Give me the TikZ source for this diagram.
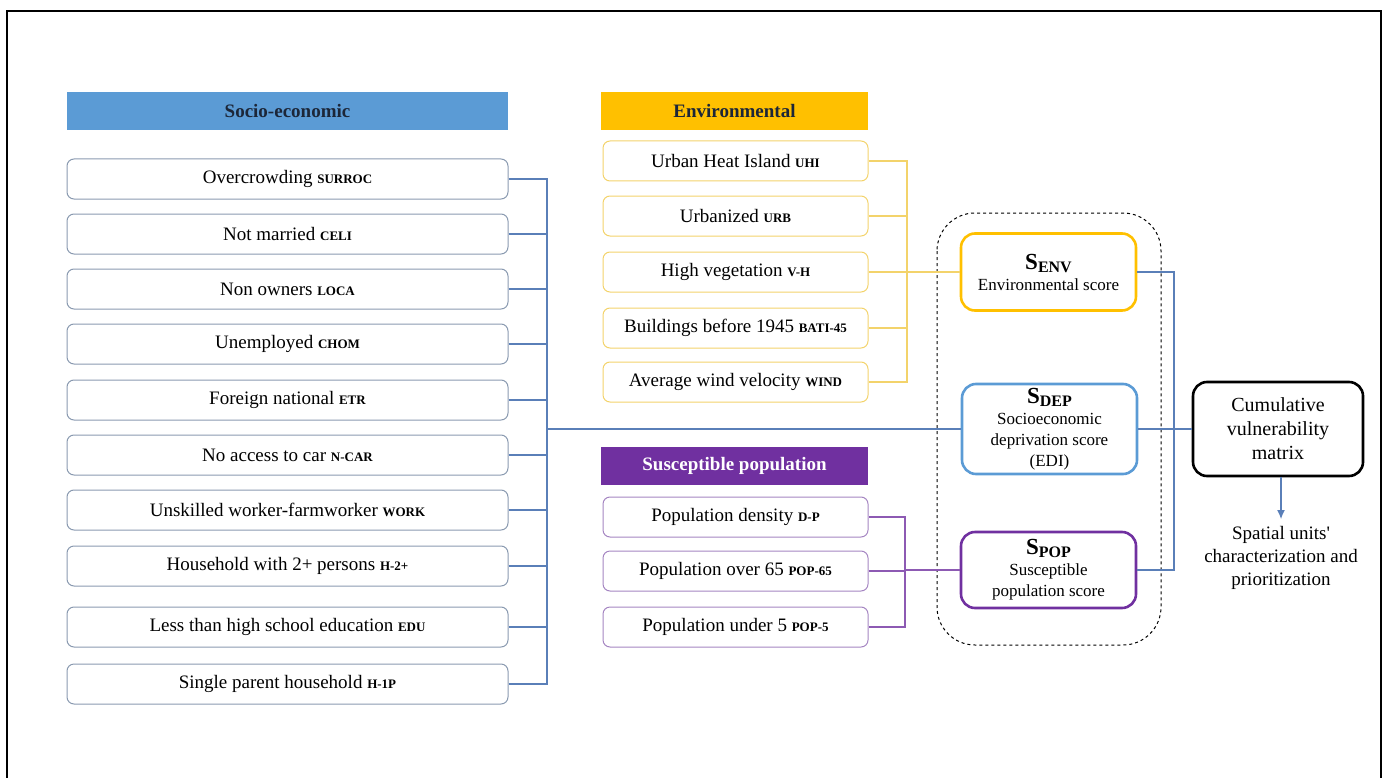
\documentclass[tikz,border=0pt]{standalone}
\usepackage{fontspec}
\setmainfont{Liberation Serif}
\usetikzlibrary{calc, arrows.meta}

\definecolor{socblue}{HTML}{5B9BD5}
\definecolor{envgold}{HTML}{FFC000}
\definecolor{poppurple}{HTML}{7030A0}
\definecolor{socline}{HTML}{8A9AB0}
\definecolor{envline}{HTML}{F3D36B}
\definecolor{popline}{HTML}{A585C2}
\definecolor{linkblue}{HTML}{5A7FB8}
\definecolor{headtext}{HTML}{1C2638}

\newcommand{\vcode}[1]{{\fontsize{13}{15}\selectfont\bfseries #1}}
\newcommand{\score}[2]{{\fontsize{23}{25}\selectfont\bfseries #1}{\fontsize{16}{18}\selectfont\bfseries\raisebox{-3pt}{#2}}}

\begin{document}
\begin{tikzpicture}[x=1pt, y=-1pt, line width=1pt,
		item/.style={draw, rounded corners=7pt, inner sep=0pt,
				minimum height=40pt, font=\fontsize{19}{22}\selectfont},
		head/.style={fill, inner sep=0pt, minimum height=38pt,
				font=\fontsize{19}{22}\selectfont\bfseries},
		scorebox/.style={draw, line width=2.6pt, rounded corners=14pt,
				inner sep=0pt, minimum width=175pt, align=center,
				font=\fontsize{17}{21}\selectfont},
		link/.style={linkblue, line width=1.1pt}]
	\useasboundingbox (0,0) rectangle (1388,778);
	\draw[line width=2pt] (7,778) |- (1381,11) -- (1381,778);

	% headers
	\node[head, socblue, minimum width=441pt, text=headtext] (sochead) at (287.5,111) {Socio-economic};
	\node[head, envgold, minimum width=267pt, text=headtext] (envhead) at (734.5,111) {Environmental};
	\node[head, poppurple, minimum width=267pt, text=white] (pophead) at (734.5,466) {Susceptible population};

	% socio-economic indicators
	\foreach \i/\y/\txt in {
			1/179/{Overcrowding \vcode{SURROC}},
			2/234/{Not married \vcode{CELI}},
			3/289/{Non owners \vcode{LOCA}},
			4/344/{Unemployed \vcode{CHOM}},
			5/400/{Foreign national \vcode{ETR}},
			6/455/{No access to car \vcode{N-CAR}},
			7/510/{Unskilled worker-farmworker \vcode{WORK}},
			8/566/{Household with 2+ persons \vcode{H-2+}},
			9/627/{Less than high school education \vcode{EDU}},
			10/684/{Single parent household \vcode{H-1P}}} {
			\node[item, draw=socline, minimum width=441pt] (s\i) at (287.5,\y) {\txt};
		}

	% environmental indicators
	\foreach \i/\y/\txt in {
			1/161/{Urban Heat Island \vcode{UHI}},
			2/216/{Urbanized \vcode{URB}},
			3/272/{High vegetation \vcode{V-H}},
			4/328/{Buildings before 1945 \vcode{BATI-45}},
			5/382/{Average wind velocity \vcode{WIND}}} {
			\node[item, draw=envline, minimum width=265pt] (e\i) at (735.5,\y) {\txt};
		}

	% population indicators
	\foreach \i/\y/\txt in {
			1/517/{Population density \vcode{D-P}},
			2/571/{Population over 65 \vcode{POP-65}},
			3/627/{Population under 5 \vcode{POP-5}}} {
			\node[item, draw=popline, minimum width=265pt] (p\i) at (735.5,\y) {\txt};
		}

	% scores
	\draw[dashed, line width=1pt, rounded corners=38pt] (937,213) rectangle (1161,645);
	\node[scorebox, draw=envgold, minimum height=77pt] (senv) at (1048.5,272)
		{\score{S}{ENV}\\Environmental score};
	\node[scorebox, draw=socblue, minimum height=90pt] (sdep) at (1049.5,429)
		{\score{S}{DEP}\\Socioeconomic\\deprivation score\\(EDI)};
	\node[scorebox, draw=poppurple, minimum height=76pt] (spop) at (1048.5,570)
		{\score{S}{POP}\\Susceptible\\population score};

	\node[draw, line width=2.6pt, rounded corners=14pt, minimum width=170pt,
		minimum height=94pt, align=center, font=\fontsize{20}{24}\selectfont]
		(cvm) at (1278,429) {Cumulative\\vulnerability\\matrix};
	\node[anchor=north, align=center, inner sep=0pt,
		font=\fontsize{19}{23}\selectfont] (spatial) at (1281,526)
		{Spatial units\textquotesingle\\characterization and\\prioritization};

	% connectors
	\coordinate (sbus) at (547,429);
	\coordinate (ebus) at (907,272);
	\coordinate (pbus) at (905,570);
	\coordinate (rbus) at (1174,429);
	\foreach \i in {1,...,10} {
			\draw[link] (s\i.east) -| (sbus);
		}
	\draw[link] (sbus) -- (sdep.west);
	\foreach \i in {1,...,5} {
			\draw[envline, line width=1.3pt] (e\i.east) -| (ebus);
		}
	\draw[envline, line width=1.3pt] (ebus) -- (senv.west);
	\foreach \i in {1,2,3} {
			\draw[poppurple!80, line width=1.1pt] (p\i.east) -| (pbus);
		}
	\draw[poppurple!80, line width=1.1pt] (pbus) -- (spop.west);
	\draw[link] (senv.east) -| (rbus);
	\draw[link] (spop.east) -| (rbus);
	\draw[link] (sdep.east) -- (cvm.west);
	\draw[link, -{Latex[length=9pt, width=8pt]}] (cvm.south -| spatial.north) -- ([yshift=7pt]spatial.north);
\end{tikzpicture}
\end{document}
